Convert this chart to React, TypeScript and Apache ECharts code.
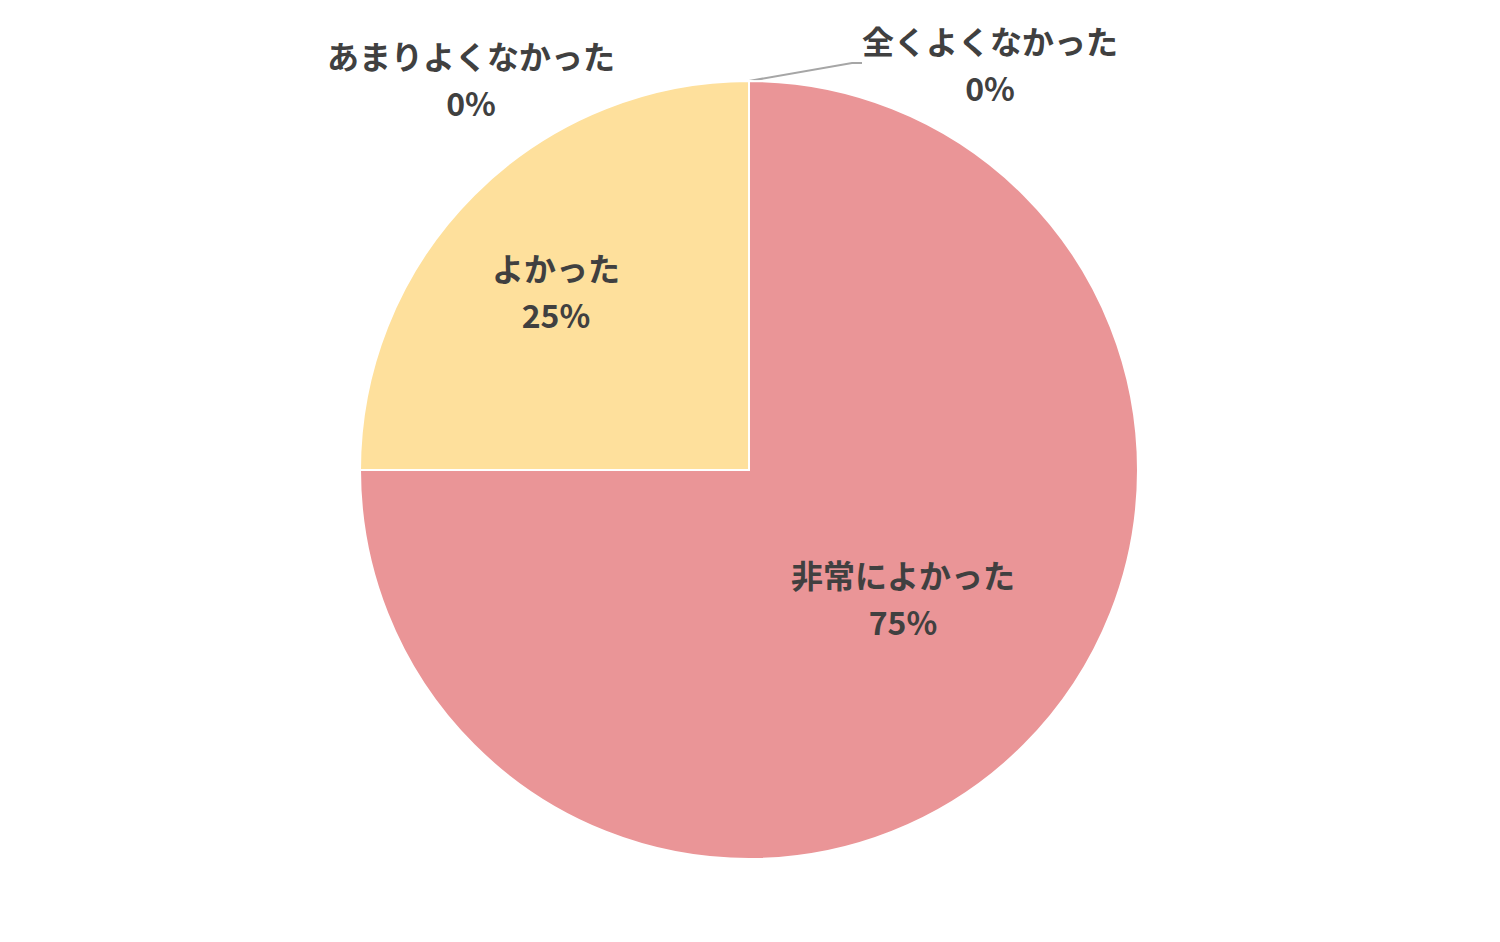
import React, { useEffect, useRef } from "react";
import * as echarts from "echarts";

const categories = ["非常によかった", "よかった", "あまりよくなかった", "全くよくなかった"];
const values = [75, 25, 0, 0];
const colors = ["#EA9597", "#FEE09C", "#A5A5A5", "#5B9BD5"];

// label anchor positions (px) for each slice label
const labelPos = [
  [903, 597],
  [556, 290],
  [471, 78],
  [990, 63],
];

export default function App() {
  const ref = useRef<HTMLDivElement>(null);
  useEffect(() => {
    document.body.style.margin = "0";
    const chart = echarts.init(ref.current!, undefined, { renderer: "svg" });
    chart.setOption({
      animation: false,
      backgroundColor: "#ffffff",
      series: [
        {
          type: "pie",
          center: [749, 470],
          radius: 389,
          startAngle: 90,
          clockwise: true,
          percentPrecision: 0,
          avoidLabelOverlap: false,
          itemStyle: { borderColor: "#ffffff", borderWidth: 2 },
          label: {
            show: true,
            position: "inside",
            formatter: "{b}\n{d}%",
            color: "#404040",
            fontFamily: "Noto Sans CJK JP",
            fontWeight: "bold",
            fontSize: 32,
            lineHeight: 47,
            align: "center",
          },
          labelLine: { show: false },
          labelLayout: (params: any) => {
            const p = labelPos[params.dataIndex];
            return { x: p[0], y: p[1], align: "center", verticalAlign: "middle" };
          },
          data: categories.map((name, i) => {
            const item: any = { name, value: values[i], itemStyle: { color: colors[i] } };
            if (i === 3) {
              item.label = { position: "outside" };
              item.labelLine = {
                show: true,
                length: 20,
                length2: 10,
                lineStyle: { color: "#A6A6A6", width: 2 },
              };
            }
            if (i === 2) {
              item.label = { position: "outside" };
              item.labelLine = { show: false };
            }
            return item;
          }),
        },
      ],
    });
    return () => chart.dispose();
  }, []);
  return <div ref={ref} style={{ width: 1500, height: 942 }} />;
}
